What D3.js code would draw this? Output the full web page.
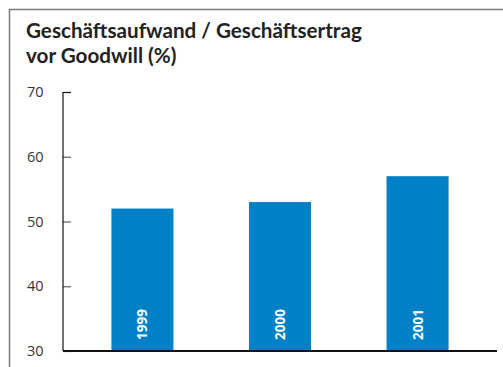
<!DOCTYPE html>
<html><head><meta charset="utf-8">
<script src="https://cdn.jsdelivr.net/npm/d3@7"></script>
<style>body{margin:0;background:#fff;}svg{display:block;}</style>
</head><body>
<script>
const years = ["1999", "2000", "2001"];
const values = [52, 53, 57];
const yTicks = [30, 40, 50, 60, 70];
const titleLines = ["Geschäftsaufwand / Geschäftsertrag", "vor Goodwill (%)"];

const W = 503, H = 367;
const svg = d3.select("body").append("svg").attr("width", W).attr("height", H);
const font = "'Open Sans', 'Noto Sans', sans-serif";

// frame
svg.append("path").attr("d", `M9.5,${H} V9.5 H${W}`)
  .attr("fill", "none").attr("stroke", "#7a7a7a").attr("stroke-width", 1.5);

// title
const t = svg.append("text").attr("font-family", "Lato, 'Open Sans', sans-serif").attr("font-weight", "bold")
  .attr("font-size", 18).attr("fill", "#222");
titleLines.forEach((l, i) => t.append("tspan").attr("x", 26).attr("y", 38 + i * 25).text(l));
const first = t.select("tspan").node();
const len = first.getComputedTextLength();
if (len > 0) t.attr("font-size", 18 * 336 / len);

const x0 = 63, x1 = 497, yTop = 92, yBot = 351;
const y = d3.scaleLinear().domain([30, 70]).range([yBot, yTop]);
const x = d3.scaleBand().domain(years).range([x0, x1]).paddingInner(0.549).paddingOuter(0.352);

// bars
svg.selectAll("rect.bar").data(years).join("rect").attr("class", "bar")
  .attr("x", d => x(d)).attr("width", x.bandwidth())
  .attr("y", (d, i) => y(values[i])).attr("height", (d, i) => yBot - y(values[i]))
  .attr("fill", "#0080c6");

// year labels inside bars
svg.selectAll("text.yr").data(years).join("text").attr("class", "yr")
  .attr("transform", d => `translate(${x(d) + x.bandwidth() / 2 + 5},${yBot - 11}) rotate(-90)`)
  .attr("font-family", font).attr("font-weight", "bold").attr("font-size", 13.5)
  .attr("fill", "#fff").text(d => d);

// y axis
const ax = svg.append("g").attr("transform", `translate(${x0},0)`)
  .call(d3.axisRight(y).tickValues(yTicks).tickSize(8).tickFormat(""));
ax.select(".domain").remove();
ax.selectAll(".tick line").attr("stroke", (d) => d === 70 ? "#111" : "#666").attr("stroke-width", 1.2);
svg.append("line").attr("x1", x0).attr("x2", x0).attr("y1", yTop).attr("y2", yBot)
  .attr("stroke", "#111").attr("stroke-width", 1.2);

// tick labels
svg.selectAll("text.yl").data(yTicks).join("text").attr("class", "yl")
  .attr("x", 27).attr("y", d => y(d) + 5)
  .attr("font-family", font).attr("font-size", 14.5).attr("fill", "#333").text(d => d);

// baseline
svg.append("line").attr("x1", x0).attr("x2", x1).attr("y1", yBot).attr("y2", yBot)
  .attr("stroke", "#111").attr("stroke-width", 1.8);
</script>
</body></html>
